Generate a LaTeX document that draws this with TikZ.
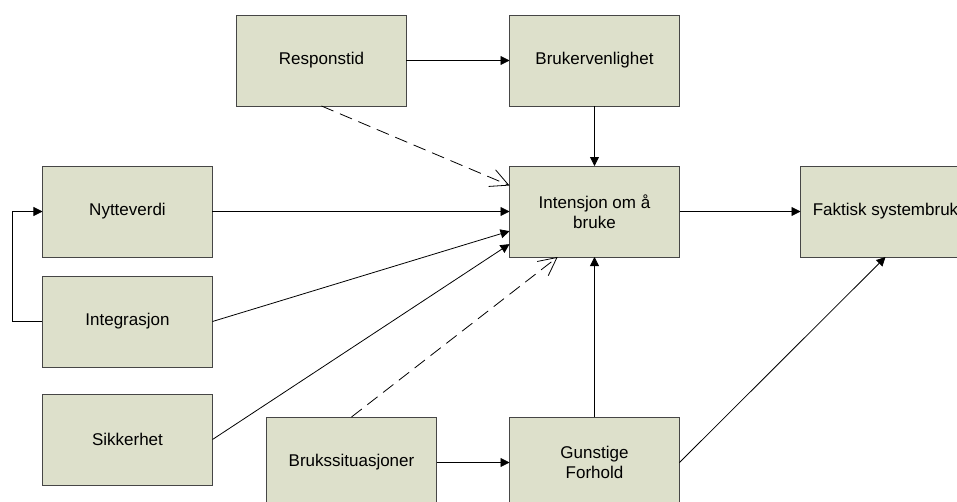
\documentclass[tikz,border=0pt]{standalone}
\usepackage{fontspec}
\setmainfont{Liberation Sans}
\usepackage{tikz}
\usetikzlibrary{arrows.meta, positioning}
\definecolor{boxfill}{RGB}{221,224,203}
\definecolor{boxline}{RGB}{70,70,70}
\tikzstyle{factor} = [rectangle, minimum width=170pt, minimum height=91pt, inner sep=0pt, outer sep=0pt, align=center, draw=boxline, line width=0.9pt, fill=boxfill, font=\fontsize{17}{20}\selectfont]
\tikzstyle{arrow} = [line width=0.8pt, -{Triangle[length=9pt,width=9pt]}]
\tikzstyle{dasharrow} = [line width=0.8pt, dash pattern=on 13pt off 7pt, -{Straight Barb[length=18pt,width=18pt,line width=0.8pt]}]

\begin{document}
\begin{tikzpicture}[x=1pt, y=1pt]
\useasboundingbox (-594.5,-289.5) rectangle (362.5,211.5);

\node [factor] (intensjon) at (0,0) {Intensjon om å\\bruke};
\node [factor, above=60pt of intensjon] (bruker) {Brukervenlighet};
\node [factor, left=103pt of bruker] (respons) {Responstid};
\node [factor, right=121pt of intensjon] (faktisk) {Faktisk systembruk};
\node [factor, below=160pt of intensjon] (gunstige) {Gunstige\\Forhold};
\node [factor, left=73pt of gunstige] (bruks) {Brukssituasjoner};
\node [factor, left=297pt of intensjon] (nytte) {Nytteverdi};
\node [factor, below=19pt of nytte] (integr) {Integrasjon};
\node [factor, below=27pt of integr] (sikker) {Sikkerhet};

\draw [arrow] (respons) -- (bruker);
\draw [arrow] (bruker) -- (intensjon);
\draw [dasharrow] (respons.south) -- (intensjon.163);
\draw [arrow] (nytte) -- (intensjon);
\draw [arrow] (integr.east) -- (intensjon.193);
\draw [arrow] (sikker.east) -- (intensjon.201);
\draw [dasharrow] (bruks.north) -- (intensjon.231);
\draw [arrow] (bruks) -- (gunstige);
\draw [arrow] (gunstige) -- (intensjon);
\draw [arrow] (intensjon) -- (faktisk);
\draw [arrow] (gunstige.east) -- (faktisk.south);
\draw [arrow] (integr.west) -- ++(-30pt,0) |- (nytte.west);
\end{tikzpicture}
\end{document}
